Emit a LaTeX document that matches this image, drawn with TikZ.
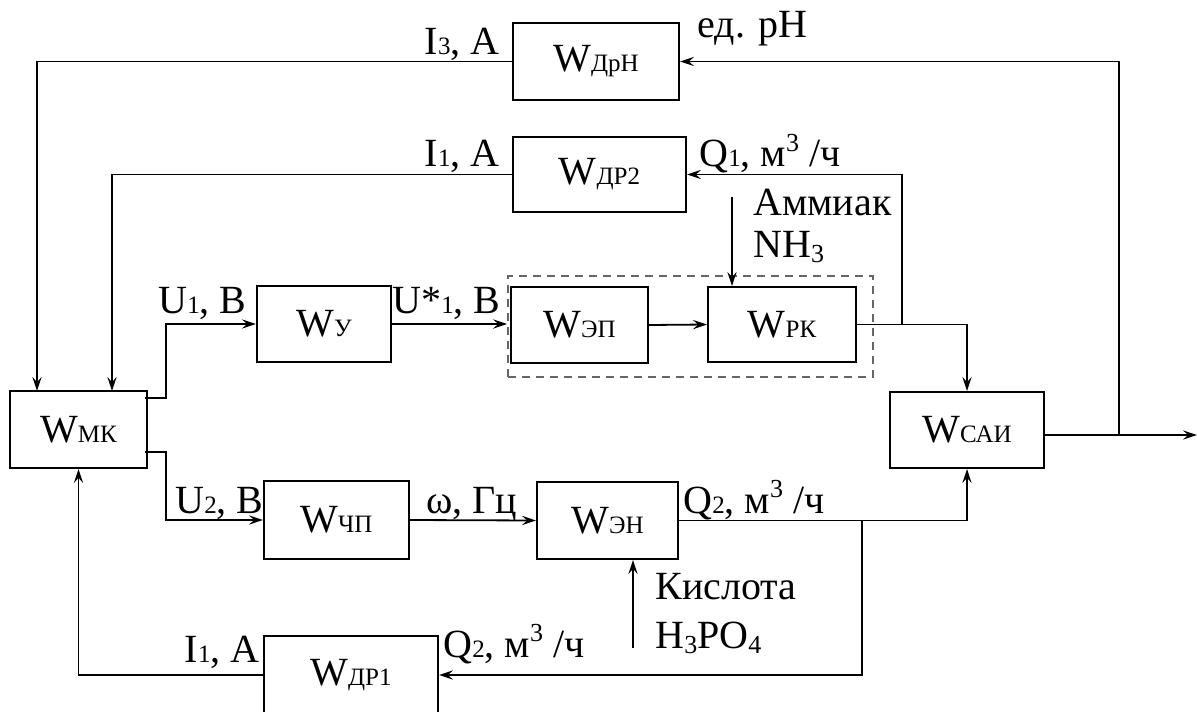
\documentclass[tikz,border=0pt]{standalone}
\usepackage{fontspec}
\setmainfont{Liberation Serif}
\usetikzlibrary{arrows.meta}
\newcommand{\ix}[1]{{\fontsize{12.5}{13}\selectfont #1}}
\newcommand{\sps}[1]{\raisebox{0.85ex}{\fontsize{13}{13}\selectfont #1}}
\newcommand{\sbs}[1]{\raisebox{-0.3ex}{\fontsize{13}{13}\selectfont #1}}
\begin{document}
\begin{tikzpicture}[x=0.5pt,y=-0.5pt,
  font=\fontsize{20}{24}\selectfont,
  blk/.style={draw, line width=1pt, inner sep=0pt, rectangle},
  lbl/.style={inner sep=0pt},
  ln/.style={line width=0.9pt},
  arr/.style={ln, -{Stealth[length=7pt,width=4.6pt,inset=2.6pt]}},
  grpbox/.style={draw, dashed, line width=0.9pt, gray!80!black, dash pattern=on 4pt off 3pt, inner sep=0pt}
]
\useasboundingbox (0,0) rectangle (1197,711);

% blocks
\node[blk, minimum width=68.5pt, minimum height=38.5pt] (mk)  at (78.5,429.5) {W\ix{МК}};
\node[blk, minimum width=67pt,   minimum height=38pt]   (u)   at (324,324)    {W\ix{У}};
\node[grpbox, minimum width=182.5pt, minimum height=50.5pt] (grp) at (690.5,326.5) {};
\node[blk, minimum width=68.5pt, minimum height=38pt]   (ep)  at (579.5,325)  {W\ix{ЭП}};
\node[blk, minimum width=74pt,   minimum height=37.5pt] (rk)  at (782,324.5)  {W\ix{РК}};
\node[blk, minimum width=77pt,   minimum height=38pt]   (sai) at (967,430)    {W\ix{САИ}};
\node[blk, minimum width=72.5pt, minimum height=39pt]   (chp) at (336.5,520)  {W\ix{ЧП}};
\node[blk, minimum width=70.5pt, minimum height=38.5pt] (en)  at (607.5,520.5){W\ix{ЭН}};
\node[blk, minimum width=87pt,   minimum height=39pt]   (dr1) at (351,675)    {W\ix{ДР1}};
\node[blk, minimum width=83pt,   minimum height=38.5pt] (drn) at (596,61.5)   {W\ix{ДрН}};
\node[blk, minimum width=86.5pt, minimum height=37.5pt] (dr2) at (599.5,174.5){W\ix{ДР2}};

% coordinates
\coordinate (j1) at (1119,435);
\coordinate (j2) at (902,324.5);
\coordinate (j3) at (862,520.5);
\coordinate (mkin1) at (37,391);
\coordinate (mkin2) at (112,391);
\coordinate (mko1) at (145,398);
\coordinate (mkb1) at (166,398);
\coordinate (mko2) at (145,452);
\coordinate (mkb2) at (166,452);
\coordinate (nh) at (732,197);
\coordinate (ac) at (633,648);
\coordinate (out) at (1197,435);

% connectors
\draw[arr] (j1) |- (drn.east);
\draw[arr] (drn.west) -| (mkin1);
\draw[arr] (j2) |- (dr2.east);
\draw[arr] (dr2.west) -| (mkin2);
\draw[arr] (mko1) -- (mkb1) |- (u.west);
\draw[arr] (u.east) -- (u.east -| grp.west);
\draw[arr] (ep.east) -- (rk.west);
\draw[arr] (rk.east) -| (sai.north);
\draw[arr] (nh) -- (nh |- rk.north);
\draw[arr] (sai.east |- out) -- (out);
\draw[arr] (mko2) -- (mkb2) |- (chp.west);
\draw[arr] (chp.east) -- (en.west);
\draw[arr] (en.east) -| (sai.south);
\draw[arr] (j3) |- (dr1.east);
\draw[arr] (dr1.west) -| (mk.south);
\draw[arr] (ac) -- (ac |- en.south);

% labels
\node[lbl, anchor=base east] (l1) at (500,55) {I\ix{3}, A};
\node[lbl, anchor=base west] (l2) at (697,38) {ед. pH};
\node[lbl, anchor=base east] (l3) at (500,167) {I\ix{1}, A};
\node[lbl, anchor=base west] (l4) at (699,167) {Q\ix{1}, м\sps{3} /ч};
\node[lbl, anchor=base west] (l5) at (753,215) {Аммиак};
\node[lbl, anchor=base west] (l6) at (753,257) {NH\sbs{3}};
\node[lbl, anchor=base west] (l7) at (158,313) {U\ix{1}, B};
\node[lbl, anchor=base west] (l8) at (392,313) {U*\ix{1}, B};
\node[lbl, anchor=base west] (l9) at (175,513) {U\ix{2}, B};
\node[lbl, anchor=base west] (l10) at (426,513) {ω, Гц};
\node[lbl, anchor=base west] (l11) at (683,513) {Q\ix{2}, м\sps{3} /ч};
\node[lbl, anchor=base west] (l12) at (655,599) {Кислота};
\node[lbl, anchor=base west] (l13) at (655,648) {H\sbs{3}PO\sbs{4}};
\node[lbl, anchor=base west] (l14) at (443,657) {Q\ix{2}, м\sps{3} /ч};
\node[lbl, anchor=base east] (l15) at (260,662) {I\ix{1}, A};
\end{tikzpicture}
\end{document}
